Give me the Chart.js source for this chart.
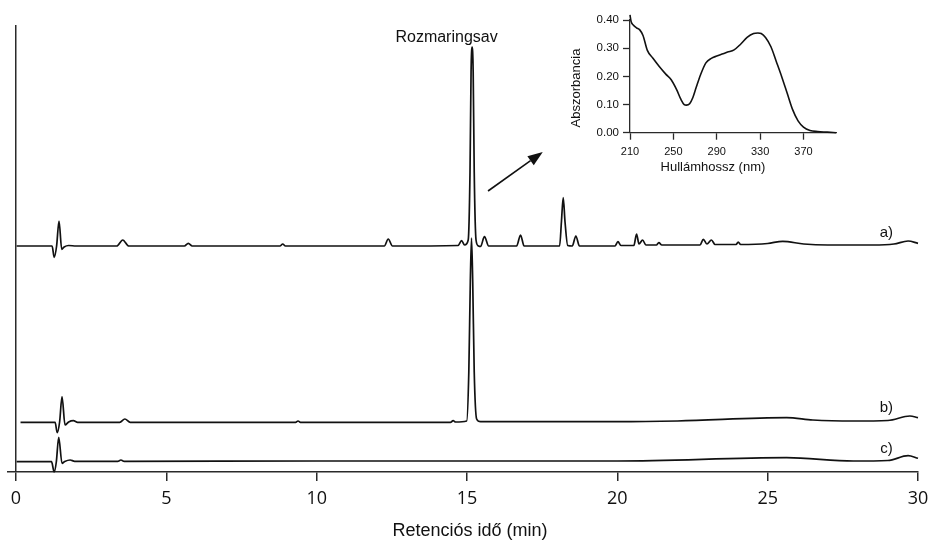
<!DOCTYPE html>
<html>
<head>
<meta charset="utf-8">
<script src="https://cdn.jsdelivr.net/npm/chart.js@4/dist/chart.umd.min.js"></script>
<style>
  body { margin: 0; background: #fff; }
  #wrap { position: relative; width: 930px; height: 540px; }
  #inset-chart { position: absolute; left: 560px; top: 0; }
</style>
</head>
<body>
<div id="wrap">
  <canvas id="hplc-chart" width="930" height="540"></canvas>
  <canvas id="inset-chart" width="290" height="190"></canvas>
</div>
<script>
// chromatograms, retention time in min, detector response (stacked)
const timeA = [0.02, 1.20, 1.27, 1.35, 1.43, 1.52, 1.60, 1.75, 2.00, 3.35, 3.55, 3.75, 5.60, 5.73, 5.86,
  8.78, 8.87, 8.96, 12.25, 12.38, 12.52, 14.70, 14.82, 14.92, 15.04, 15.10, 15.135, 15.17, 15.205, 15.24,
  15.30, 15.38, 15.45, 15.58, 15.72, 16.65, 16.78, 16.90, 18.08, 18.14, 18.20, 18.26, 18.35, 18.50, 18.62,
  18.74, 19.92, 20.02, 20.12, 20.55, 20.64, 20.72, 20.84, 20.95, 21.30, 21.38, 21.48, 22.75, 22.86, 22.98,
  23.13, 23.25, 23.95, 24.02, 24.10, 25.00, 25.50, 26.20, 27.00, 28.50, 29.20, 29.67, 30.00];
const traceA = [226, 226, 214.7, 226, 251, 222.7, 225, 226.5, 226, 226, 232, 226, 226, 228.7, 226,
  226, 228, 226, 226, 233, 226, 226.5, 231.3, 227, 232, 300, 400, 425, 400, 300,
  232, 226, 225.5, 235.3, 226, 226, 237, 226, 226, 250, 274.3, 250, 226.5, 226, 236,
  226, 226, 230.3, 226.5, 226.5, 238, 228, 232, 227, 227, 229.3, 227, 227, 232.7, 228,
  232, 227.5, 227.5, 230, 227.5, 228.5, 230.7, 228, 227, 227, 228, 231, 228.7];

const timeB = [0.15, 1.30, 1.37, 1.45, 1.53, 1.63, 1.75, 1.91, 2.05, 3.45, 3.62, 3.80, 9.30, 9.38, 9.46,
  14.45, 14.54, 14.62, 14.99, 15.06, 15.11, 15.15, 15.19, 15.24, 15.32, 15.45, 20.00, 22.00, 25.63, 26.50,
  27.85, 29.00, 29.73, 30.00];
const traceB = [49.7, 49.7, 39.3, 50, 75.3, 47, 50, 51.3, 49.7, 49.7, 53, 49.7, 49.7, 51, 49.7,
  49.7, 51.3, 50, 51, 100, 190, 234, 190, 100, 53, 50.3, 50.3, 51, 54.3, 52,
  51, 51.5, 56, 54.3];

const timeC = [0.02, 1.18, 1.27, 1.34, 1.42, 1.53, 1.62, 1.80, 1.95, 3.38, 3.49, 3.60, 10.00, 15.00, 20.00,
  25.63, 27.85, 29.00, 29.67, 30.00];
const traceC = [10.3, 10.3, 0, 10, 34.7, 8.7, 10.5, 12, 10.7, 10.7, 12, 10.7, 11, 11, 11,
  14.3, 11, 11.5, 16.3, 13.7];

const traceNames = ["a)", "b)", "c)"];
const xTicks = [0, 5, 10, 15, 20, 25, 30];

// UV spectrum of the main peak
const wavelength = [210, 211, 213, 216, 219, 222, 226, 231, 237, 243, 248, 253, 257, 260, 262, 265, 268, 271,
  275, 280, 285, 290, 295, 300, 306, 312, 318, 324, 328, 331, 335, 340, 345, 350, 355, 360, 365, 370,
  376, 383, 392, 400];
const absorbance = [0.418, 0.395, 0.382, 0.372, 0.365, 0.345, 0.292, 0.265, 0.235, 0.208, 0.188, 0.153,
  0.118, 0.100, 0.098, 0.103, 0.125, 0.160, 0.205, 0.248, 0.264, 0.272, 0.279, 0.286, 0.294, 0.314,
  0.338, 0.352, 0.354, 0.352, 0.338, 0.305, 0.252, 0.198, 0.140, 0.082, 0.042, 0.020, 0.008, 0.004,
  0.002, 0.000];
const insetXTicks = [210, 250, 290, 330, 370];
const insetYTicks = [0, 0.1, 0.2, 0.3, 0.4];

const axisColor = "#2a2a2a";
const inkColor = "#111";
const sansFont = '"Liberation Sans", Arial, sans-serif';

// where the annotations sit (data coordinates)
const peakName = "Rozmaringsav";
const peakNameAt = [14.32, 430];
const traceLabelTime = 28.95;
const traceLabelLevel = [235, 60, 19];
const arrowFrom = [15.70, 281];
const arrowTo = [17.52, 320];

function toPoints(xs, ys) {
  return xs.map((x, i) => ({ x: x, y: ys[i] }));
}

function traceDataset(label, xs, ys) {
  return {
    label: label,
    data: toPoints(xs, ys),
    borderColor: inkColor,
    borderWidth: 1.7,
    pointRadius: 0,
    cubicInterpolationMode: "monotone",
    tension: 0.3,
    clip: false,
  };
}

const chromAnnotations = {
  id: "chromAnnotations",
  afterDatasetsDraw(chart) {
    const { ctx, scales: { x, y } } = chart;
    ctx.save();
    ctx.fillStyle = inkColor;
    ctx.strokeStyle = inkColor;
    ctx.textAlign = "center";
    ctx.textBaseline = "alphabetic";

    ctx.font = "16px " + sansFont;
    ctx.fillText(peakName, x.getPixelForValue(peakNameAt[0]), y.getPixelForValue(peakNameAt[1]));

    ctx.font = "15px " + sansFont;
    traceNames.forEach((name, i) => {
      ctx.fillText(name, x.getPixelForValue(traceLabelTime), y.getPixelForValue(traceLabelLevel[i]));
    });

    // arrow pointing at the inset spectrum
    const x0 = x.getPixelForValue(arrowFrom[0]), y0 = y.getPixelForValue(arrowFrom[1]);
    const x1 = x.getPixelForValue(arrowTo[0]), y1 = y.getPixelForValue(arrowTo[1]);
    const ang = Math.atan2(y1 - y0, x1 - x0);
    const headLen = 15, headHalf = 5.5;
    const bx = x1 - headLen * Math.cos(ang), by = y1 - headLen * Math.sin(ang);
    ctx.lineWidth = 1.6;
    ctx.beginPath();
    ctx.moveTo(x0, y0);
    ctx.lineTo(bx, by);
    ctx.stroke();
    ctx.beginPath();
    ctx.moveTo(x1, y1);
    ctx.lineTo(bx + headHalf * Math.sin(ang), by - headHalf * Math.cos(ang));
    ctx.lineTo(bx - headHalf * Math.sin(ang), by + headHalf * Math.cos(ang));
    ctx.closePath();
    ctx.fill();

    // axis title
    ctx.font = "18px " + sansFont;
    ctx.fillText("Retenciós idő (min)", x.getPixelForValue(15.1), chart.chartArea.bottom + 64);
    ctx.restore();
  },
};

const hplcChart = new Chart(document.getElementById("hplc-chart"), {
  type: "line",
  data: {
    datasets: [
      traceDataset(traceNames[0], timeA, traceA),
      traceDataset(traceNames[1], timeB, traceB),
      traceDataset(traceNames[2], timeC, traceC),
    ],
  },
  options: {
    responsive: false,
    animation: false,
    devicePixelRatio: 1,
    layout: { padding: { left: 7.6, right: 12, top: 25, bottom: 0 } },
    plugins: { legend: { display: false }, tooltip: { enabled: false } },
    scales: {
      x: {
        type: "linear",
        min: -0.28,
        max: 30,
        afterBuildTicks: (s) => { s.ticks = xTicks.map((v) => ({ value: v })); },
        afterFit: (s) => {
          s.height = 68;
          s.paddingLeft = 0;
          s.paddingRight = 0;
        },
        border: { display: true, color: axisColor, width: 1.5 },
        grid: {
          drawOnChartArea: true,
          color: (c) => (c.tick && c.tick.value === 0 ? axisColor : "rgba(0,0,0,0)"),
          lineWidth: 1.5,
          tickLength: 9,
          tickColor: axisColor,
          tickWidth: 1.5,
        },
        ticks: {
          color: inkColor,
          padding: 7,
          maxRotation: 0,
          font: { family: '"Open Sans", sans-serif', size: 18 },
        },
      },
      y: { display: false, min: 0, max: 447 },
    },
  },
  plugins: [chromAnnotations],
});

const insetTitles = {
  id: "insetTitles",
  afterDraw(chart) {
    const { ctx, scales: { x } } = chart;
    ctx.save();
    ctx.fillStyle = inkColor;
    ctx.font = "13px " + sansFont;
    ctx.textAlign = "center";
    ctx.textBaseline = "middle";
    ctx.fillText("Hullámhossz (nm)", x.getPixelForValue(286.5), 167.5);
    ctx.translate(16, 88);
    ctx.rotate(-Math.PI / 2);
    ctx.fillText("Abszorbancia", 0, 0);
    ctx.restore();
  },
};

const insetChart = new Chart(document.getElementById("inset-chart"), {
  type: "line",
  data: {
    datasets: [{
      label: "Spektrum",
      data: toPoints(wavelength, absorbance),
      borderColor: inkColor,
      borderWidth: 1.6,
      pointRadius: 0,
      cubicInterpolationMode: "monotone",
      tension: 0.4,
      clip: false,
    }],
  },
  options: {
    responsive: false,
    animation: false,
    devicePixelRatio: 1,
    layout: { padding: { left: 0, right: 14, top: 20, bottom: 0 } },
    plugins: { legend: { display: false }, tooltip: { enabled: false } },
    scales: {
      x: {
        type: "linear",
        min: 210,
        max: 400,
        afterBuildTicks: (s) => { s.ticks = insetXTicks.map((v) => ({ value: v })); },
        afterFit: (s) => { s.height = 57.3; },
        border: { display: true, color: axisColor, width: 1.3 },
        grid: { drawOnChartArea: false, tickLength: 7, tickColor: axisColor, tickWidth: 1.3 },
        ticks: { color: inkColor, padding: 6, maxRotation: 0, font: { family: sansFont, size: 11 } },
      },
      y: {
        type: "linear",
        min: 0,
        max: 0.4,
        afterBuildTicks: (s) => { s.ticks = insetYTicks.map((v) => ({ value: v })); },
        afterFit: (s) => { s.width = 70; },
        border: { display: true, color: axisColor, width: 1.3 },
        grid: { drawOnChartArea: false, tickLength: 7, tickColor: axisColor, tickWidth: 1.3 },
        ticks: {
          color: inkColor,
          padding: 4,
          font: { family: sansFont, size: 11.5 },
          callback: (v) => v.toFixed(2),
        },
      },
    },
  },
  plugins: [insetTitles],
});
</script>
</body>
</html>
